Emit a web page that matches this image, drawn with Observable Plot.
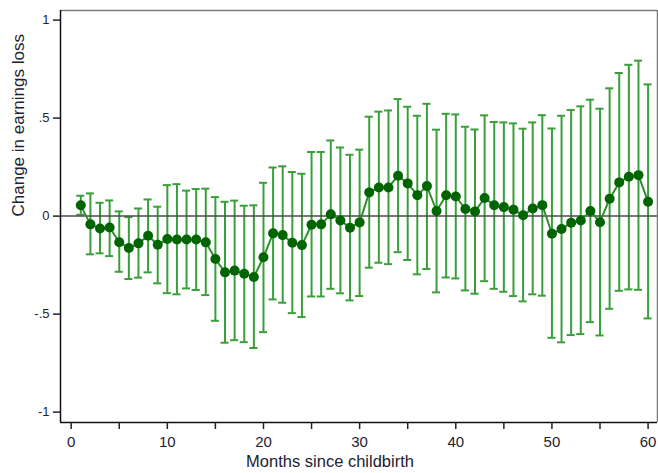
<!DOCTYPE html>
<html>
<head>
<meta charset="utf-8">
<script src="https://cdn.jsdelivr.net/npm/d3@7"></script>
<script src="https://cdn.jsdelivr.net/npm/@observablehq/plot@0.6"></script>
<style>
  html, body { margin: 0; padding: 0; background: #fff; }
  #chart svg { display: block; }
</style>
</head>
<body>
<div id="chart"></div>
<script>
// Event-study estimates of the change in earnings loss, by month since childbirth
const months = [1,2,3,4,5,6,7,8,9,10,11,12,13,14,15,16,17,18,19,20,
  21,22,23,24,25,26,27,28,29,30,31,32,33,34,35,36,37,38,39,40,
  41,42,43,44,45,46,47,48,49,50,51,52,53,54,55,56,57,58,59,60];

const estimate = [0.055,-0.042,-0.063,-0.058,-0.133,-0.163,-0.139,-0.100,-0.146,-0.117,
  -0.119,-0.119,-0.119,-0.134,-0.219,-0.287,-0.278,-0.294,-0.311,-0.210,
  -0.088,-0.097,-0.136,-0.148,-0.044,-0.042,0.009,-0.022,-0.059,-0.032,
  0.121,0.146,0.146,0.206,0.167,0.107,0.153,0.026,0.106,0.100,
  0.036,0.024,0.092,0.055,0.046,0.033,0.004,0.039,0.056,-0.090,
  -0.066,-0.034,-0.022,0.026,-0.031,0.089,0.172,0.201,0.209,0.073];

const ciUpper = [0.104,0.116,0.068,0.080,0.024,-0.005,0.039,0.085,0.048,0.158,
  0.163,0.130,0.138,0.140,0.097,0.073,0.079,0.053,0.055,0.170,
  0.248,0.254,0.225,0.216,0.327,0.327,0.386,0.350,0.313,0.339,
  0.507,0.533,0.539,0.597,0.558,0.512,0.573,0.441,0.522,0.519,
  0.456,0.442,0.514,0.480,0.478,0.473,0.446,0.478,0.515,0.447,
  0.512,0.541,0.560,0.594,0.548,0.652,0.730,0.772,0.793,0.672];

const ciLower = [0.007,-0.195,-0.190,-0.204,-0.284,-0.321,-0.314,-0.287,-0.343,-0.393,
  -0.399,-0.369,-0.377,-0.403,-0.534,-0.646,-0.633,-0.643,-0.673,-0.592,
  -0.425,-0.442,-0.495,-0.515,-0.410,-0.410,-0.371,-0.394,-0.430,-0.408,
  -0.263,-0.238,-0.245,-0.184,-0.224,-0.297,-0.270,-0.389,-0.313,-0.318,
  -0.379,-0.396,-0.332,-0.371,-0.386,-0.408,-0.435,-0.399,-0.406,-0.621,
  -0.644,-0.607,-0.602,-0.541,-0.609,-0.473,-0.381,-0.374,-0.376,-0.522];

const xTicks = [0,5,10,15,20,25,30,35,40,45,50,55,60];
const xTickLabels = ["0","","10","","20","","30","","40","","50","","60"];
const yTicks = [-1,-0.5,0,0.5,1];
const yTickLabels = ["-1","-.5","0",".5","1"];
const xTitle = "Months since childbirth";
const yTitle = "Change in earnings loss";

const xDomain = [-1.11, 60.98];
const yDomain = [-1.053, 1.049];
const capHalf = 0.42; // half-width of the CI caps, in months

const rows = months.map((m, i) => ({m, est: estimate[i], lo: ciLower[i], hi: ciUpper[i]}));

const barColor = "#3a9f3a";
const dotColor = "#006400";
const lineColor = "#2e8f2e";

const chart = Plot.plot({
  width: 658,
  height: 473,
  marginLeft: 60,
  marginRight: 1,
  marginTop: 10,
  marginBottom: 51,
  x: {domain: xDomain},
  y: {domain: yDomain},
  style: {fontFamily: "'Liberation Sans', Arial, sans-serif", color: "#1e2230", background: "#fff"},
  marks: [
    // confidence intervals with caps
    Plot.ruleX(rows, {x: "m", y1: "lo", y2: "hi", stroke: barColor, strokeWidth: 2}),
    Plot.ruleY(rows, {y: "hi", x1: d => d.m - capHalf, x2: d => d.m + capHalf, stroke: barColor, strokeWidth: 2}),
    Plot.ruleY(rows, {y: "lo", x1: d => d.m - capHalf, x2: d => d.m + capHalf, stroke: barColor, strokeWidth: 2}),
    // reference line at zero
    Plot.ruleY([0], {stroke: "#4a4a4a", strokeWidth: 1.5}),
    // point estimates
    Plot.line(rows, {x: "m", y: "est", stroke: lineColor, strokeWidth: 2}),
    Plot.dot(rows, {x: "m", y: "est", r: 5, fill: dotColor, stroke: "none"}),
    // frame: gray top/right, black left/bottom axis lines
    Plot.ruleY([yDomain[1]], {stroke: "#7a7a7a", strokeWidth: 1.5}),
    Plot.ruleX([xDomain[1]], {stroke: "#7a7a7a", strokeWidth: 1.5}),
    Plot.ruleX([xDomain[0]], {stroke: "#111", strokeWidth: 1.5}),
    Plot.ruleY([yDomain[0]], {stroke: "#111", strokeWidth: 1.5}),
    Plot.axisX({
      ticks: xTicks,
      tickFormat: (d, i) => xTickLabels[i],
      tickSize: 7,
      tickPadding: 7,
      fontSize: 15,
      label: null,
      strokeWidth: 1.5
    }),
    Plot.axisY({
      ticks: yTicks,
      tickFormat: (d, i) => yTickLabels[i],
      tickSize: 7,
      tickPadding: 4,
      fontSize: 13,
      label: null,
      strokeWidth: 1.5
    }),
    Plot.text([xTitle], {frameAnchor: "bottom", dx: -29, dy: 39, lineAnchor: "middle", fontSize: 16.5, fill: "#1e2230"}),
    Plot.text([yTitle], {frameAnchor: "left", dx: -42, rotate: -90, lineAnchor: "middle", fontSize: 17, fill: "#1e2230"})
  ]
});

document.getElementById("chart").appendChild(chart);
</script>
</body>
</html>
